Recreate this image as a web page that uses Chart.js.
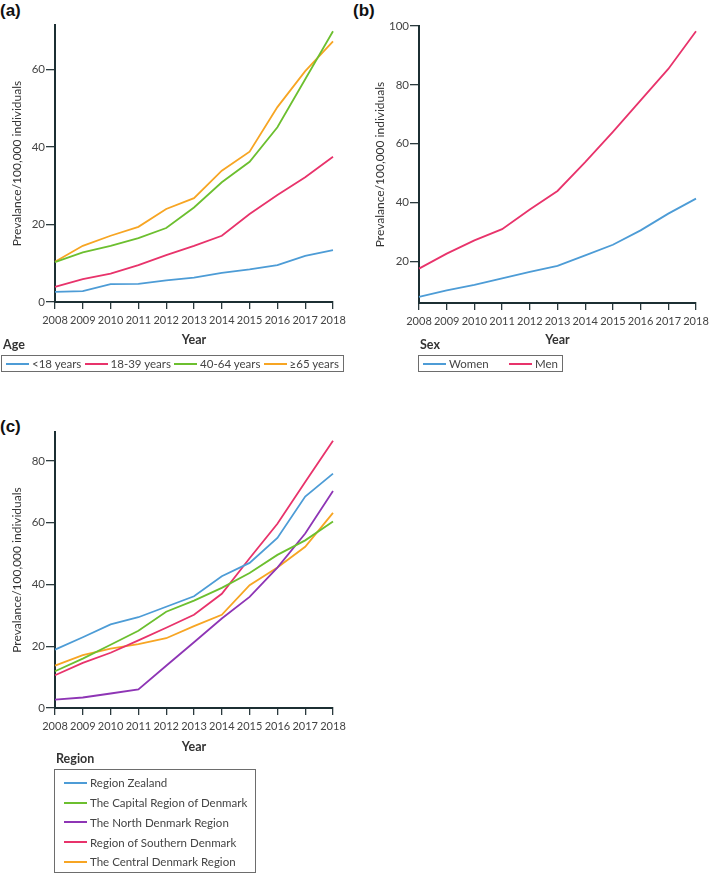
<!DOCTYPE html>
<html><head><meta charset="utf-8">
<script src="https://cdn.jsdelivr.net/npm/chart.js@4.4.1/dist/chart.umd.min.js"></script>
<style>
html,body{margin:0;padding:0;background:#fff;width:709px;height:874px;overflow:hidden;font-family:Lato,sans-serif;}
.box{position:absolute;}
.plabel{position:absolute;font:bold 17px 'Liberation Sans',Arial,sans-serif;color:#111;line-height:20px;}
.ltitle{position:absolute;font:bold 12.5px Lato,sans-serif;color:#333;line-height:16px;}
.legend{position:absolute;border:1px solid #6d6d6d;box-sizing:border-box;font:11.5px Lato,sans-serif;color:#444;}
.row{display:flex;align-items:center;justify-content:space-between;height:100%;padding:0 4px;box-sizing:border-box;}
.col{padding:3px 0 0 9px;}
.item{display:flex;align-items:center;white-space:nowrap;}
.col .item{height:19.75px;}
.sw{display:inline-block;width:23px;height:2px;margin-right:3px;}
</style></head><body>
<div class="plabel" style="left:0;top:1px">(a)</div>
<div class="plabel" style="left:353px;top:1px">(b)</div>
<div class="plabel" style="left:0;top:417px">(c)</div>
<div class="box" style="left:0;top:0"><canvas id="ca" width="355" height="350"></canvas></div>
<div class="box" style="left:360px;top:0"><canvas id="cb" width="349" height="350"></canvas></div>
<div class="box" style="left:0;top:400px"><canvas id="cc" width="355" height="357"></canvas></div>
<div class="ltitle" style="left:3px;top:337px">Age</div>
<div class="legend" id="lega" style="left:1px;top:355px;width:343px;height:17px"></div>
<div class="ltitle" style="left:420px;top:337px">Sex</div>
<div class="legend" id="legb" style="left:418px;top:355px;width:145px;height:17px"></div>
<div class="ltitle" style="left:56px;top:751px">Region</div>
<div class="legend" id="legc" style="left:54px;top:769px;width:202px;height:104px"></div>
<script>
// ---- data ----
const years = ['2008','2009','2010','2011','2012','2013','2014','2015','2016','2017','2018'];
const ageGroups = ['<18 years','18-39 years','40-64 years','\u226565 years'];
const ageUnder18 = [2.6, 2.8, 4.6, 4.7, 5.6, 6.3, 7.5, 8.4, 9.5, 11.9, 13.4];
const age18to39 = [3.9, 5.9, 7.3, 9.5, 12.1, 14.5, 17.1, 22.7, 27.6, 32.2, 37.5];
const age40to64 = [10.3, 12.8, 14.5, 16.5, 19.1, 24.4, 30.9, 36.2, 45.1, 57.5, 69.9];
const age65plus = [10.4, 14.5, 17.1, 19.4, 24.0, 26.8, 33.9, 38.8, 50.3, 59.6, 67.3];
const sexes = ['Women','Men'];
const women = [7.9, 10.1, 12.0, 14.2, 16.4, 18.4, 22.0, 25.6, 30.5, 36.2, 41.3];
const men = [17.5, 22.6, 27.1, 30.9, 37.6, 43.9, 53.7, 64.0, 74.7, 85.4, 98.2];
const regions = ['Region Zealand','The Capital Region of Denmark','The North Denmark Region','Region of Southern Denmark','The Central Denmark Region'];
const zealand = [18.9, 22.9, 27.1, 29.4, 32.8, 36.2, 42.7, 47.0, 55.1, 68.5, 75.9];
const capital = [11.9, 16.0, 20.5, 25.0, 31.2, 34.8, 38.9, 43.7, 49.6, 54.3, 60.4];
const north = [2.7, 3.4, 4.7, 6.0, 13.7, 21.3, 29.0, 36.0, 45.5, 56.5, 70.3];
const southern = [10.6, 14.6, 17.9, 21.9, 26.0, 30.2, 37.0, 48.5, 59.7, 73.2, 86.6];
const central = [13.7, 17.1, 19.2, 20.7, 22.6, 26.5, 30.2, 39.8, 45.5, 52.2, 63.2];
const yTicksA = [0, 20, 40, 60];
const yTicksB = [20, 40, 60, 80, 100];
const yTicksC = [0, 20, 40, 60, 80];
const yTitle = 'Prevalance/100,000 individuals';
const xTitle = 'Year';

// ---- styles ----
const BLUE = '#4d9cd6', RED = '#e8336b', GREEN = '#6cbf2f', ORANGE = '#f7a523', PURPLE = '#8e35b5';
const ageColors = [BLUE, RED, GREEN, ORANGE];
const sexColors = [BLUE, RED];
const regionColors = [BLUE, GREEN, PURPLE, RED, ORANGE];

Chart.defaults.font.family = 'Lato, sans-serif';
Chart.defaults.color = '#4a4a4a';

function ds(label, data, color) {
  return {label, data, borderColor: color, backgroundColor: color, borderWidth: 1.8,
          pointRadius: 0, pointHoverRadius: 0, tension: 0, fill: false};
}
function makeChart(id, sets, yMin, yMax, yTicks, pad, yWidth, xHeight, yTitlePad) {
  return new Chart(document.getElementById(id), {
    type: 'line',
    data: {labels: years, datasets: sets},
    options: {
      responsive: false, animation: false, devicePixelRatio: 1,
      layout: {padding: pad},
      plugins: {legend: {display: false}, tooltip: {enabled: false}},
      scales: {
        x: {
          type: 'category', offset: false,
          grid: {drawOnChartArea: false, drawTicks: true, tickLength: 7, color: '#2b3a3e', lineWidth: 1.3},
          border: {display: true, color: '#1c2f33', width: 2},
          ticks: {font: {size: 11}, color: '#444', padding: 5, maxRotation: 0, autoSkip: false},
          title: {display: true, text: xTitle, font: {size: 12.5, weight: 'bold'}, color: '#333', padding: {top: 0, bottom: 3}},
          afterFit: s => { s.height = xHeight; s.paddingLeft = 0; s.paddingRight = 0; }
        },
        y: {
          type: 'linear', min: yMin, max: yMax,
          afterBuildTicks: s => { s.ticks = yTicks.map(v => ({value: v})); },
          grid: {drawOnChartArea: false, drawTicks: true, tickLength: 9, color: '#2b3a3e', lineWidth: 1.3},
          border: {display: true, color: '#1c2f33', width: 2},
          ticks: {font: {size: 11.5}, color: '#444', padding: 1},
          title: {display: true, text: yTitle, font: {size: 12}, color: '#333', padding: {top: yTitlePad, bottom: 0}},
          afterFit: s => { s.width = yWidth; s.paddingTop = 0; s.paddingBottom = 0; }
        }
      }
    }
  });
}

makeChart('ca', [ds(ageGroups[0], ageUnder18, ageColors[0]), ds(ageGroups[1], age18to39, ageColors[1]),
                 ds(ageGroups[2], age40to64, ageColors[2]), ds(ageGroups[3], age65plus, ageColors[3])],
          0, 71.5, yTicksA, {top: 25, left: 0, right: 22, bottom: 0}, 55, 48, 10);
makeChart('cb', [ds(sexes[0], women, sexColors[0]), ds(sexes[1], men, sexColors[1])],
          5.8, 100, yTicksB, {top: 26, left: 0, right: 13, bottom: 0}, 59, 47, 13);
makeChart('cc', [ds(regions[0], zealand, regionColors[0]), ds(regions[1], capital, regionColors[1]),
                 ds(regions[2], north, regionColors[2]), ds(regions[3], southern, regionColors[3]),
                 ds(regions[4], central, regionColors[4])],
          0, 89.4, yTicksC, {top: 32, left: 0, right: 22, bottom: 0}, 55, 49, 10);

function buildLegend(id, names, colors, cls) {
  const el = document.getElementById(id);
  const wrap = document.createElement('div');
  wrap.className = cls;
  names.forEach((n, i) => {
    const it = document.createElement('div'); it.className = 'item';
    const sw = document.createElement('span'); sw.className = 'sw'; sw.style.background = colors[i];
    const tx = document.createElement('span'); tx.textContent = n;
    it.appendChild(sw); it.appendChild(tx); wrap.appendChild(it);
  });
  el.appendChild(wrap);
}
buildLegend('lega', ageGroups, ageColors, 'row');
buildLegend('legb', sexes, sexColors, 'row');
buildLegend('legc', regions, regionColors, 'col');
</script>
</body></html>
